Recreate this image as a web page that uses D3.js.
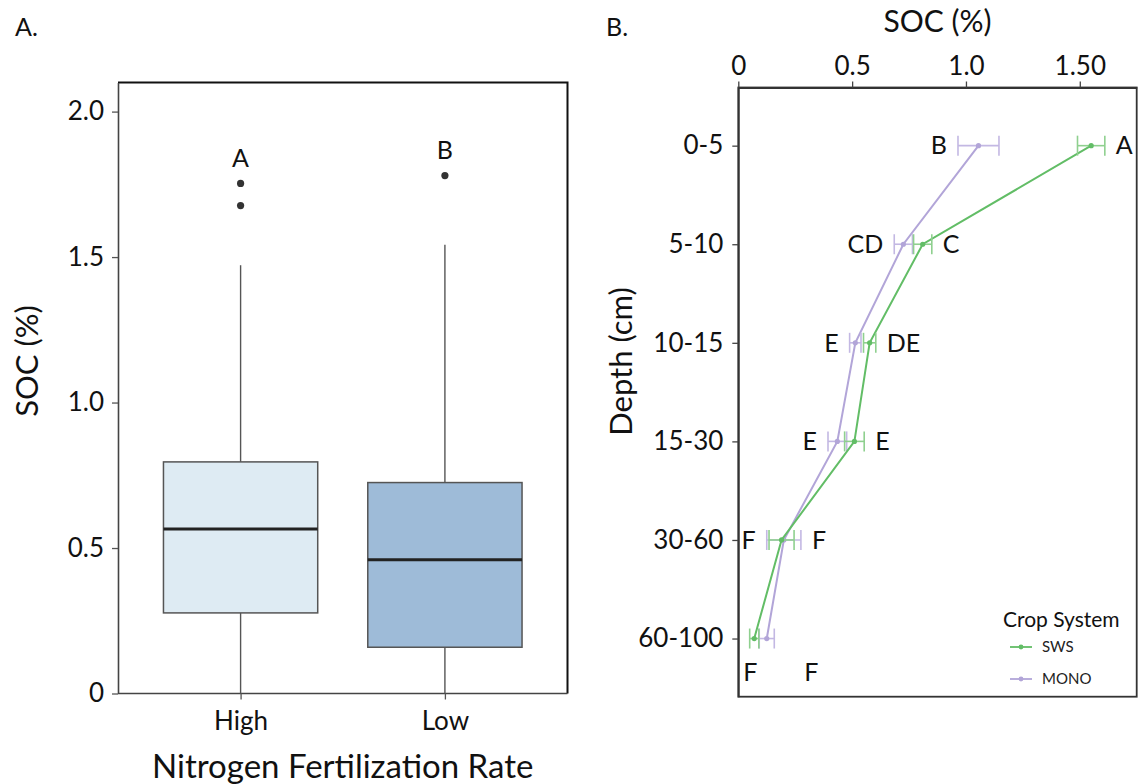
<!DOCTYPE html>
<html>
<head>
<meta charset="utf-8">
<script src="https://cdn.jsdelivr.net/npm/d3@7"></script>
<style>
  html, body { margin: 0; padding: 0; background: #fff; }
  svg { display: block; font-family: Lato, "Open Sans", sans-serif; }
</style>
</head>
<body>
<svg id="fig" width="1138" height="784"></svg>
<script>
// ---- Panel A: SOC by nitrogen fertilization rate (box plots) ----
const nRates = ["High", "Low"];
const boxQ1 = [0.277, 0.159];
const boxMedian = [0.565, 0.46];
const boxQ3 = [0.796, 0.725];
const whiskerLow = [0, 0];
const whiskerHigh = [1.472, 1.542];
const outliers = [[1.753, 1.677], [1.78]];
const rateLetters = ["A", "B"];
const boxFills = ["#deebf3", "#9ebbd8"];
const yTicksA = [0, 0.5, 1.0, 1.5, 2.0];
const yTickLabelsA = ["0", "0.5", "1.0", "1.5", "2.0"];

// ---- Panel B: SOC by depth for two crop systems ----
const depths = ["0-5", "5-10", "10-15", "15-30", "30-60", "60-100"];
const swsMean = [1.55, 0.81, 0.577, 0.51, 0.19, 0.07];
const swsErr = [0.06, 0.04, 0.027, 0.043, 0.055, 0.02];
const monoMean = [1.055, 0.725, 0.514, 0.435, 0.20, 0.125];
const monoErr = [0.09, 0.04, 0.025, 0.041, 0.075, 0.033];
const monoLetters = ["B", "CD", "E", "E", "F", "F"];
const swsLetters = ["A", "C", "DE", "E", "F", "F"];
const seriesNames = ["SWS", "MONO"];
const xTicksB = [0, 0.5, 1.0, 1.5];
const xTickLabelsB = ["0", "0.5", "1.0", "1.50"];

const svg = d3.select("#fig");
const tickFont = 26;

// ================= Panel A =================
const A = { left: 118, right: 567.5, top: 82.5, bottom: 693.5 };
const yA = d3.scaleLinear().domain([0, 2.1]).range([A.bottom, A.top]);
const xA = d3.scalePoint().domain(nRates).range([A.left, A.right]).padding(0.6);
const boxW = xA.step() * 0.755;

const gA = svg.append("g");

// frame: top and right edges
gA.append("path")
  .attr("d", `M${A.left},${A.top}H${A.right}V${A.bottom}`)
  .attr("fill", "none").attr("stroke", "#111").attr("stroke-width", 2);

const yAxisA = d3.axisLeft(yA).tickValues(yTicksA)
  .tickFormat((d, i) => yTickLabelsA[i]).tickSize(6).tickPadding(8).tickSizeOuter(0);
const gyA = gA.append("g").attr("transform", `translate(${A.left},0)`).call(yAxisA);

const xAxisA = d3.axisBottom(xA).tickSize(6).tickPadding(12).tickSizeOuter(0);
const gxA = gA.append("g").attr("transform", `translate(0,${A.bottom})`).call(xAxisA);
gxA.select(".domain").attr("d", `M${A.left},0H${A.right}`);

[gyA, gxA].forEach(g => {
  g.select(".domain").attr("stroke", "#444").attr("stroke-width", 1.6);
  g.selectAll(".tick line").attr("stroke", "#555").attr("stroke-width", 1.3);
  g.selectAll(".tick text").attr("font-size", tickFont).attr("fill", "#111")
    .attr("font-family", "Lato, 'Open Sans', sans-serif");
});

const boxes = gA.append("g").selectAll("g").data(nRates).join("g");
// whiskers
boxes.append("line")
  .attr("x1", d => xA(d)).attr("x2", d => xA(d))
  .attr("y1", (d, i) => yA(whiskerHigh[i])).attr("y2", (d, i) => yA(boxQ3[i]))
  .attr("stroke", "#555").attr("stroke-width", 1.4);
boxes.append("line")
  .attr("x1", d => xA(d)).attr("x2", d => xA(d))
  .attr("y1", (d, i) => yA(boxQ1[i])).attr("y2", (d, i) => yA(whiskerLow[i]))
  .attr("stroke", "#555").attr("stroke-width", 1.4);
// boxes
boxes.append("rect")
  .attr("x", d => xA(d) - boxW / 2).attr("width", boxW)
  .attr("y", (d, i) => yA(boxQ3[i]))
  .attr("height", (d, i) => yA(boxQ1[i]) - yA(boxQ3[i]))
  .attr("fill", (d, i) => boxFills[i]).attr("stroke", "#555").attr("stroke-width", 1.5);
// medians
boxes.append("line")
  .attr("x1", d => xA(d) - boxW / 2).attr("x2", d => xA(d) + boxW / 2)
  .attr("y1", (d, i) => yA(boxMedian[i])).attr("y2", (d, i) => yA(boxMedian[i]))
  .attr("stroke", "#222").attr("stroke-width", 3);
// outliers
boxes.each(function (d, i) {
  d3.select(this).selectAll("circle").data(outliers[i]).join("circle")
    .attr("cx", xA(d)).attr("cy", v => yA(v)).attr("r", 3.6).attr("fill", "#333");
});
// group letters
boxes.append("text")
  .attr("x", d => xA(d)).attr("y", (d, i) => yA(d3.max(outliers[i])) - 25)
  .attr("dy", "0.35em").attr("text-anchor", "middle")
  .attr("font-size", 25).attr("fill", "#111").text((d, i) => rateLetters[i]);

gA.append("text").attr("transform", "translate(38,361) rotate(-90)")
  .attr("text-anchor", "middle").attr("font-size", 31).attr("fill", "#111").text("SOC (%)");
gA.append("text").attr("x", (A.left + A.right) / 2).attr("y", 778)
  .attr("text-anchor", "middle").attr("font-size", 33).attr("fill", "#111")
  .text("Nitrogen Fertilization Rate");
gA.append("text").attr("x", 15).attr("y", 36).attr("font-size", 25).attr("fill", "#111").text("A.");

// ================= Panel B =================
const B = { left: 738.3, right: 1136.7, top: 87.5, bottom: 696.7 };
const xB = d3.scaleLinear().domain([0, 1.75]).range([B.left, B.right]);
const yB = d3.scalePoint().domain(depths).range([B.top, B.bottom]).padding(0.59);
const gB = svg.append("g");

gB.append("rect").attr("x", B.left).attr("y", B.top)
  .attr("width", B.right - B.left).attr("height", B.bottom - B.top)
  .attr("fill", "none").attr("stroke", "#333").attr("stroke-width", 1.8);

const xAxisB = d3.axisTop(xB).tickValues(xTicksB)
  .tickFormat((d, i) => xTickLabelsB[i]).tickSize(6).tickPadding(7).tickSizeOuter(0);
const gxB = gB.append("g").attr("transform", `translate(0,${B.top})`).call(xAxisB);
const yAxisB = d3.axisLeft(yB).tickSize(6).tickPadding(9).tickSizeOuter(0);
const gyB = gB.append("g").attr("transform", `translate(${B.left},0)`).call(yAxisB);
[gxB, gyB].forEach(g => {
  g.select(".domain").attr("stroke", "#333").attr("stroke-width", 1.8);
  g.selectAll(".tick line").attr("stroke", "#444").attr("stroke-width", 1.3);
  g.selectAll(".tick text").attr("font-size", tickFont).attr("fill", "#111")
    .attr("font-family", "Lato, 'Open Sans', sans-serif");
});

const series = [
  { name: seriesNames[0], mean: swsMean, err: swsErr, color: "#62bd66", errColor: "#8fd08f" },
  { name: seriesNames[1], mean: monoMean, err: monoErr, color: "#b2a5d8", errColor: "#c3b8e3" }
];
const capH = 10;

// MONO drawn first so SWS sits on top
[series[1], series[0]].forEach(s => {
  const g = gB.append("g");
  const rows = depths.map((d, i) => ({ d, m: s.mean[i], e: s.err[i] }));
  g.append("path").datum(rows)
    .attr("d", d3.line().x(r => xB(r.m)).y(r => yB(r.d)))
    .attr("fill", "none").attr("stroke", s.color).attr("stroke-width", 2);
  const eb = g.selectAll("g.eb").data(rows).join("g").attr("class", "eb")
    .attr("stroke", s.errColor).attr("stroke-width", 1.6);
  eb.append("line").attr("x1", r => xB(r.m - r.e)).attr("x2", r => xB(r.m + r.e))
    .attr("y1", r => yB(r.d)).attr("y2", r => yB(r.d));
  eb.append("line").attr("x1", r => xB(r.m - r.e)).attr("x2", r => xB(r.m - r.e))
    .attr("y1", r => yB(r.d) - capH).attr("y2", r => yB(r.d) + capH);
  eb.append("line").attr("x1", r => xB(r.m + r.e)).attr("x2", r => xB(r.m + r.e))
    .attr("y1", r => yB(r.d) - capH).attr("y2", r => yB(r.d) + capH);
  g.selectAll("circle").data(rows).join("circle")
    .attr("cx", r => xB(r.m)).attr("cy", r => yB(r.d)).attr("r", 2.6).attr("fill", s.color);
});

// significance letters: MONO on the left, SWS on the right of each row
const lastRow = depths.length - 1;
depths.forEach((d, i) => {
  const lo = Math.min(swsMean[i] - swsErr[i], monoMean[i] - monoErr[i]);
  const hi = Math.max(swsMean[i] + swsErr[i], monoMean[i] + monoErr[i]);
  const below = i === lastRow;
  const y = yB(d) + (below ? 34 : 0);
  gB.append("text")
    .attr("x", below ? xB(0) + 5 : xB(lo) - 11).attr("y", y).attr("dy", "0.35em")
    .attr("text-anchor", below ? "start" : "end")
    .attr("font-size", 25).attr("fill", "#111").text(monoLetters[i]);
  gB.append("text")
    .attr("x", below ? xB(hi) + 30 : xB(hi) + 11).attr("y", y).attr("dy", "0.35em")
    .attr("text-anchor", "start")
    .attr("font-size", 25).attr("fill", "#111").text(swsLetters[i]);
});

gB.append("text").attr("x", (B.left + B.right) / 2).attr("y", 32)
  .attr("text-anchor", "middle").attr("font-size", 30).attr("fill", "#111").text("SOC (%)");
gB.append("text").attr("transform", "translate(632,361.5) rotate(-90)")
  .attr("text-anchor", "middle").attr("font-size", 31).attr("fill", "#111").text("Depth (cm)");
gB.append("text").attr("x", 606).attr("y", 36).attr("font-size", 25).attr("fill", "#111").text("B.");

// legend
const lg = gB.append("g");
lg.append("text").attr("x", 1003).attr("y", 627).attr("font-size", 21).attr("fill", "#111")
  .text("Crop System");
const lgRows = lg.selectAll("g.row").data(series).join("g").attr("class", "row")
  .attr("transform", (s, i) => `translate(1010,${647 + i * 32})`);
lgRows.append("line").attr("x1", 0).attr("x2", 22).attr("y1", 0).attr("y2", 0)
  .attr("stroke", s => s.color).attr("stroke-width", 1.8);
lgRows.append("circle").attr("cx", 11).attr("cy", 0).attr("r", 2.4).attr("fill", s => s.color);
lgRows.append("text").attr("x", 32).attr("y", 0).attr("dy", "0.35em")
  .attr("font-size", 15).attr("fill", "#222").text(s => s.name);
</script>
</body>
</html>
